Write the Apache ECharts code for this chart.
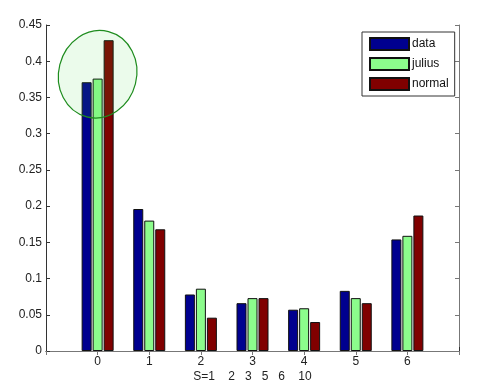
<!DOCTYPE html>
<html><head><meta charset="utf-8">
<script src="https://cdn.jsdelivr.net/npm/echarts@6/dist/echarts.min.js"></script>
<style>html,body{margin:0;padding:0;background:#fff}#c{width:488px;height:388px}</style>
</head><body><div id="c"></div>
<script>
const categories = [0, 1, 2, 3, 4, 5, 6];
const dataVals   = [0.371, 0.196, 0.078, 0.066, 0.057, 0.083, 0.154];
const juliusVals = [0.376, 0.180, 0.086, 0.073, 0.059, 0.073, 0.159];
const normalVals = [0.429, 0.168, 0.046, 0.073, 0.040, 0.066, 0.187];
const yTicks = [0, 0.05, 0.1, 0.15, 0.2, 0.25, 0.3, 0.35, 0.4, 0.45];
const xAxisName = 'S=1    2   3   5   6    10';
const highlight = [0, 0.382]; // category 0, centre of ellipse

const axisCats = [''].concat(categories.map(String), ['']);
const pad = a => [null].concat(a, [null]);
const FONT = 'Liberation Sans, Arial, sans-serif';

const chart = echarts.init(document.getElementById('c'), null, {renderer: 'canvas'});
const barStyle = c => ({color: c, borderColor: '#111', borderWidth: 1});
chart.setOption({
  animation: false,
  backgroundColor: '#fff',
  grid: {left: 46, right: 29, top: 25, bottom: 37, containLabel: false, outerBoundsMode: 'none'},
  xAxis: [{
    type: 'category', data: axisCats, boundaryGap: false, position: 'bottom',
    axisLine: {lineStyle: {color: '#333'}},
    axisTick: {inside: true, length: 4, interval: 0, lineStyle: {color: '#333'}},
    axisLabel: {interval: 0, color: '#222', fontSize: 12, fontFamily: FONT, margin: 5},
    name: xAxisName, nameLocation: 'middle', nameGap: 20, nameMoveOverlap: false,
    nameTextStyle: {color: '#222', fontSize: 12, fontFamily: FONT}
  }, {
    type: 'category', data: axisCats, boundaryGap: false, position: 'top',
    axisLine: {lineStyle: {color: '#777'}},
    axisTick: {inside: true, length: 4, interval: 0, lineStyle: {color: '#777'}},
    axisLabel: {show: false}
  }],
  yAxis: [{
    type: 'value', min: 0, max: 0.45, interval: 0.05, position: 'left',
    axisLine: {show: true, lineStyle: {color: '#333'}},
    axisTick: {show: true, inside: true, length: 4, lineStyle: {color: '#333'}},
    splitLine: {show: false},
    axisLabel: {color: '#222', fontSize: 12, fontFamily: FONT, margin: 4,
      formatter: v => { const t = yTicks.find(x => Math.abs(x - v) < 1e-9); return t === undefined ? '' : String(+t.toFixed(2)); }}
  }, {
    type: 'value', min: 0, max: 0.45, interval: 0.05, position: 'right',
    axisLine: {show: true, lineStyle: {color: '#777'}},
    axisTick: {show: true, inside: true, length: 4, lineStyle: {color: '#777'}},
    splitLine: {show: false}, axisLabel: {show: false}
  }],
  legend: {
    orient: 'vertical', left: 362, top: 32,
    padding: [5, 6, 5, 7], itemGap: 6, itemWidth: 39, itemHeight: 12,
    backgroundColor: '#fff', borderColor: '#333', borderWidth: 1, borderRadius: 0,
    textStyle: {color: '#111', fontSize: 12, fontFamily: FONT, padding: [0, 0, 0, -2]},
    icon: 'rect',
    data: ['data', 'julius', 'normal']
  },
  series: [
    {name: 'data', type: 'bar', data: pad(dataVals), barWidth: 10, barGap: '10%', itemStyle: barStyle('#00008F')},
    {name: 'julius', type: 'bar', data: pad(juliusVals), barWidth: 10, barGap: '10%', itemStyle: barStyle('#8CFC8C')},
    {name: 'normal', type: 'bar', data: pad(normalVals), barWidth: 10, barGap: '10%', itemStyle: barStyle('#800000')},
    {
      type: 'custom', z: 10, silent: true,
      data: [[categories.indexOf(highlight[0]) + 1, highlight[1]]],
      renderItem: (params, api) => {
        const p = api.coord([api.value(0), api.value(1)]);
        return {
          type: 'ellipse', x: p[0], y: p[1], rotation: -0.25,
          shape: {cx: 0, cy: 0, rx: 39, ry: 44},
          style: {fill: 'rgba(60,220,60,0.10)', stroke: '#1E8C1E', lineWidth: 1.2}
        };
      }
    }
  ]
});
</script></body></html>
